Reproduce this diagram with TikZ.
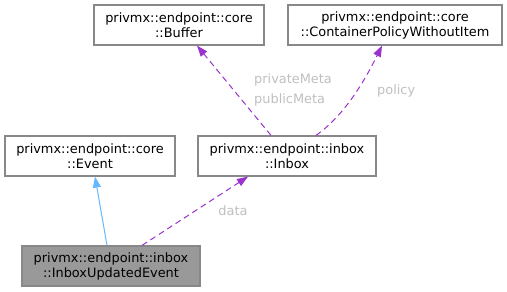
\documentclass[tikz,border=0pt]{standalone}
\usepackage{fontspec}
\setmainfont{DejaVu Sans}
\usetikzlibrary{arrows.meta}
\definecolor{edgepurple}{HTML}{9A32CD}
\definecolor{edgeblue}{HTML}{63B8FF}
\definecolor{boxline}{HTML}{888888}
\definecolor{lblgray}{HTML}{BFBFBF}
\begin{document}
\begin{tikzpicture}[x=1pt,y=-1pt,
  cls/.style={draw=boxline,line width=1.2pt,fill=white,minimum height=40pt,inner sep=0pt,align=center,font=\fontsize{12.9}{15}\selectfont},
  cur/.style={cls,fill=black!40},
  member/.style={edgepurple,line width=1pt,dash pattern=on 6pt off 4pt,-{Triangle[length=11pt,width=8pt]}},
  inherit/.style={edgeblue,line width=1pt,-{Triangle[length=11pt,width=8pt]}},
  lbl/.style={text=lblgray,font=\fontsize{12.9}{20}\selectfont,inner sep=0pt,align=left}]
\useasboundingbox (0,0) rectangle (507,292);
\node[cls,minimum width=170pt] (buffer) at (179,25) {privmx::endpoint::core\\::Buffer};
\node[cls,minimum width=214pt] (policy) at (395,25) {privmx::endpoint::core\\::ContainerPolicyWithoutItem};
\node[cls,minimum width=170pt] (event) at (90,156) {privmx::endpoint::core\\::Event};
\node[cls,minimum width=178pt] (inbox) at (287,156) {privmx::endpoint::inbox\\::Inbox};
\node[cur,minimum width=178pt] (iue) at (111,266) {privmx::endpoint::inbox\\::InboxUpdatedEvent};
\draw[inherit] ([xshift=-4pt]iue.north) -- ([xshift=5pt]event.south);
\draw[member] ([xshift=31pt]iue.north) -- ([xshift=-39pt]inbox.south);
\draw[member] ([xshift=-16pt]inbox.north) -- ([xshift=18pt]buffer.south);
\draw[member] ([xshift=29pt]inbox.north) .. controls (345,115) and (365,80) .. ([xshift=-13pt]policy.south);
\node[lbl] (ldata) at (233,211) {data};
\node[lbl,anchor=west] (lmeta) at (254,90) {privateMeta\\publicMeta};
\node[lbl,anchor=west] (lpol) at (377,91) {policy};
\end{tikzpicture}
\end{document}
